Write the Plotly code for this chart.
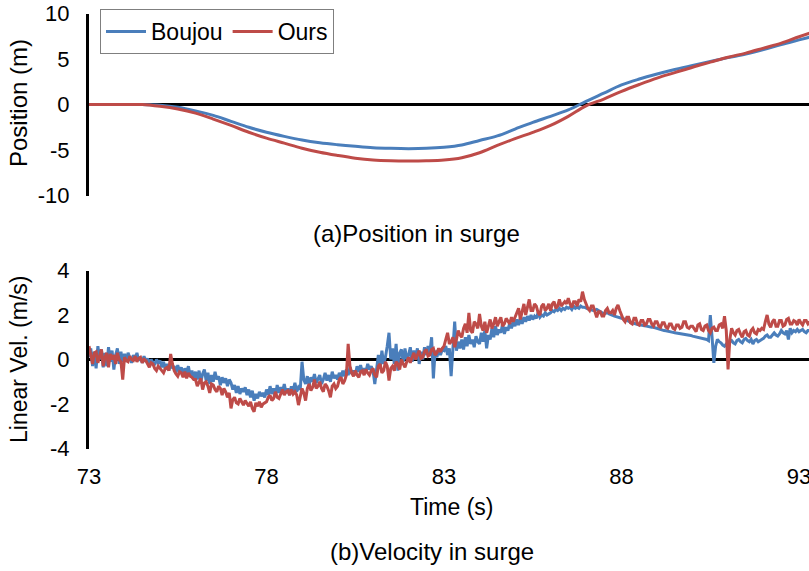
import plotly.graph_objects as go

# ---------------- data ----------------
pos_time = [73.0, 73.5, 74.0, 74.5, 75.0, 75.5, 76.0, 76.5, 77.0, 77.5,
            78.0, 78.5, 79.0, 79.5, 80.0, 80.5, 81.0, 81.5, 82.0, 82.5,
            83.0, 83.5, 84.0, 84.5, 85.0, 85.5, 86.0, 86.5, 87.0, 87.5,
            88.0, 88.5, 89.0, 89.5, 90.0, 90.5, 91.0, 91.5, 92.0, 92.5,
            93.0, 93.5]
pos_boujou = [0, 0, 0, 0, -0.08, -0.3, -0.7, -1.2, -1.85, -2.5,
              -3.05, -3.5, -3.9, -4.2, -4.42, -4.6, -4.75, -4.82, -4.85, -4.82,
              -4.7, -4.45, -3.95, -3.45, -2.7, -1.96, -1.3, -0.6, 0.35, 1.25,
              2.15, 2.8, 3.35, 3.85, 4.3, 4.72, 5.15, 5.55, 6.05, 6.6,
              7.1, 7.6]
pos_ours = [0, 0, 0, 0, -0.2, -0.5, -0.95, -1.6, -2.3, -3.05,
            -3.7, -4.25, -4.8, -5.25, -5.6, -5.9, -6.1, -6.18, -6.2, -6.18,
            -6.1, -5.85, -5.3, -4.5, -3.75, -3.07, -2.3, -1.3, -0.15, 0.6,
            1.45, 2.2, 2.9, 3.5, 4.1, 4.65, 5.2, 5.65, 6.2, 6.75,
            7.45, 8.1]

# velocity sampled every 0.05 s from 73.0 s (one row = one second)
vel_t0 = 73.0
vel_dt = 0.05
vel_boujou = [
    0.1, 0.5, -0.3, 0.35, -0.4, 0.6, 0.0, 0.45, -0.35, 0.3, -0.3, 0.55, -0.1, 0.4, -0.45, 0.2, 0.5, -0.2, 0.35, -0.1,
    0.25, -0.1, 0.3, 0.05, -0.15, 0.2, 0.0, 0.3, -0.05, 0.1, -0.15, 0.15, -0.1, 0.05, -0.2, 0.0, -0.1, -0.25, 0.0, -0.15,
    -0.05, -0.35, -0.1, -0.45, -0.2, -0.5, -0.15, -0.4, -0.3, -0.6, -0.25, -0.55, -0.35, -0.7, -0.4, -0.6, -0.3, -0.75, -0.5, -0.85,
    -0.55, -0.9, -0.5, -1.0, -0.65, -0.45, -0.95, -0.6, -1.1, -0.7, -1.0, -0.55, -0.9, -0.75, -1.15, -0.8, -1.05, -0.85, -1.2, -0.9,
    -1.05, -1.35, -1.15, -1.5, -1.2, -1.55, -1.3, -1.45, -1.25, -1.6, -1.35, -1.7, -1.4, -1.85, -1.55, -1.75, -1.45, -1.65, -1.5, -1.7,
    -1.35, -1.6, -1.2, -1.55, -1.3, -1.65, -1.15, -1.5, -1.25, -1.45, -1.1, -1.5, -1.3, -1.6, -1.2, -1.4, -1.05, -1.45, -1.25, -1.35,
    -0.1, -0.9, -1.1, -0.75, -1.15, -0.8, -1.0, -0.65, -1.05, -0.85, -0.7, -1.1, -0.9, -0.6, -0.95, -0.7, -1.0, -0.55, -0.85, -0.7,
    -0.9, -0.6, -0.8, -0.5, -0.75, -0.45, -0.7, -0.35, -0.65, -0.5, -0.7, -0.3, -0.55, -0.25, -0.6, -0.4, -0.55, -0.2, -0.45, -0.3,
    -0.5, -1.1, -0.3, 0.2, -0.4, 0.4, -0.2, 0.1, 0.6, 1.2, 0.0, 0.5, -0.2, 0.7, -0.5, 0.3, 0.45, -0.1, 0.5, 0.0,
    0.2, 0.55, -0.1, 0.4, 0.1, 0.5, -0.2, 0.35, 0.0, 0.55, 0.2, 0.6, 0.3, 1.0, -0.85, 0.4, 0.1, 0.5, 0.2, 0.45,
    0.4, 0.6, 0.2, 0.5, -0.75, 0.3, 1.7, 0.4, 0.8, 0.5, 0.9, 0.45, 1.0, 0.6, 1.1, 0.7, 0.9, 0.55, 1.05, 0.8,
    0.7, 1.2, 0.8, 1.3, 0.5, 1.1, 0.9, 1.4, 1.0, 1.5, 1.1, 1.35, 1.2, 1.6, 1.15, 1.45, 1.3, 1.65, 1.4, 1.7,
    1.5, 1.8, 1.55, 1.85, 1.6, 1.9, 1.7, 1.95, 1.75, 2.0, 1.8, 1.95, 1.85, 2.1, 1.9, 2.0, 1.95, 2.1, 2.0, 2.05,
    2.1, 2.2, 2.15, 2.25, 2.2, 2.3, 2.2, 2.3, 2.25, 2.35, 2.3, 2.35, 2.25, 2.4, 2.3, 2.35, 2.3, 2.4, 2.35, 2.35,
    2.3, 2.28, 2.25, 2.22, 2.2, 2.22, 2.25, 2.2, 2.15, 2.1, 2.05, 2.08, 2.1, 2.05, 2.0, 1.98, 1.95, 1.93, 1.92, 1.9,
    1.85, 1.83, 1.8, 1.75, 1.7, 1.68, 1.65, 1.62, 1.6, 1.57, 1.55, 1.55, 1.55, 1.52, 1.5, 1.48, 1.45, 1.45, 1.45, 1.42,
    1.4, 1.38, 1.35, 1.32, 1.3, 1.29, 1.28, 1.26, 1.25, 1.22, 1.2, 1.19, 1.18, 1.16, 1.15, 1.13, 1.12, 1.11, 1.1, 1.08,
    1.05, 1.03, 1.0, 0.99, 0.98, 0.96, 0.95, 0.93, 0.9, 0.85, 2.0, 1.0, -0.15, 0.6, 0.9, 0.8, 0.75, 0.65, 0.6, 0.7,
    0.65, 0.8, 0.85, 0.75, 0.7, 0.85, 0.9, 0.8, 0.75, 0.9, 0.95, 0.85, 0.8, 0.9, 0.7, 0.85, 0.9, 0.8, 0.85, 0.9,
    0.95, 1.05, 1.1, 1.0, 1.0, 1.1, 1.2, 1.1, 1.05, 1.15, 1.3, 1.2, 1.15, 1.3, 0.9, 1.4, 1.2, 1.3, 1.25, 1.35,
    1.25, 1.3, 1.35, 1.25, 1.2, 1.3, 1.3]
vel_ours = [
    0.6, 0.1, -0.2, 0.3, 0.35, -0.15, 0.2, 0.45, -0.3, 0.1, 0.3, -0.35, 0.25, 0.0, 0.2, -0.2, 0.3, 0.0, -0.1, -0.9,
    0.1, -0.05, -0.1, 0.15, 0.0, -0.05, 0.15, -0.1, 0.05, 0.1, -0.15, 0.0, -0.05, -0.2, -0.35, -0.15, -0.2, -0.4, -0.5, -0.3,
    -0.4, -0.55, -0.6, -0.4, -0.35, -0.5, 0.25, -0.2, -0.5, -0.65, -0.75, -0.55, -0.6, -0.8, -0.55, -0.85, -0.6, -0.75, -0.8, -0.9,
    -0.9, -1.2, -1.0, -0.85, -1.35, -1.05, -1.0, -1.2, -1.5, -1.1, -1.15, -1.35, -1.45, -1.2, -1.3, -1.6, -1.3, -1.45, -1.7, -1.5,
    -2.2, -1.8, -1.7, -1.95, -2.0, -1.75, -1.9, -2.05, -1.85, -1.95, -2.1, -1.9, -2.2, -2.35, -1.95, -2.1, -1.9, -2.15, -2.0, -1.95,
    -1.9, -1.7, -1.6, -1.85, -1.75, -1.45, -1.7, -1.75, -1.5, -1.35, -1.6, -1.45, -1.4, -1.6, -1.35, -1.55, -1.45, -1.6, -2.05, -1.6,
    -1.3, -1.5, -1.85, -1.3, -1.1, -1.4, -1.25, -0.9, -1.3, -1.2, -1.0, -1.3, -1.45, -1.1, -1.2, -1.4, -1.7, -1.2, -1.1, -1.3,
    -1.2, -0.9, -0.8, -1.1, -0.95, -0.7, 0.7, -0.3, -0.6, -0.75, -0.5, -0.7, -0.8, -0.55, -0.5, -0.7, -0.45, -0.6, -0.7, -0.5,
    -0.4, -0.7, -0.8, -0.3, -0.2, -0.6, -0.5, -0.1, -0.3, -0.95, -0.4, -0.3, -0.5, -0.1, -0.2, -0.45, 0.0, -0.2, -0.35, -0.1,
    0.1, -0.15, 0.05, 0.3, 0.0, 0.2, 0.4, 0.05, 0.1, 0.35, 0.45, 0.15, 0.2, 0.45, 0.5, 0.2, 0.3, 0.5, 0.35, 0.5,
    0.6, 0.9, 1.2, 0.7, 0.8, 1.0, 0.55, 0.9, 1.3, 1.1, 1.0, 1.4, 1.6, 1.2, 2.1, 1.3, 1.2, 1.7, 1.6, 1.4,
    2.05, 1.5, 1.3, 1.7, 1.2, 1.5, 1.8, 1.4, 1.6, 1.9, 1.5, 1.7, 1.9, 1.5, 1.6, 1.85, 1.7, 1.6, 1.9, 1.7,
    1.9, 2.1, 2.3, 1.8, 2.2, 2.5, 2.0, 2.3, 2.7, 2.2, 2.2, 2.5, 2.4, 2.1, 2.0, 2.4, 2.5, 2.2, 2.3, 2.5,
    2.2, 2.5, 2.6, 2.3, 2.4, 2.7, 2.4, 2.5, 2.6, 2.5, 2.75, 2.5, 2.35, 2.6, 2.6, 2.4, 2.7, 2.6, 3.05, 2.7,
    2.5, 2.3, 2.2, 2.4, 2.4, 2.1, 1.9, 2.15, 2.15, 1.95, 1.95, 2.2, 2.3, 2.1, 2.1, 2.2, 2.0, 2.3, 2.45, 2.2,
    2.0, 1.8, 1.7, 1.9, 1.9, 1.65, 1.6, 1.85, 1.85, 1.6, 1.55, 1.75, 1.75, 1.55, 1.6, 1.8, 1.8, 1.6, 1.5, 1.7,
    1.7, 1.5, 1.45, 1.65, 1.65, 1.45, 1.4, 1.6, 1.6, 1.4, 1.35, 1.55, 1.55, 1.4, 1.45, 1.7, 1.7, 1.45, 1.4, 1.5,
    1.5, 1.35, 1.25, 1.55, 1.6, 1.35, 1.3, 1.5, 1.55, 1.3, 1.2, 1.4, 1.45, 1.3, 1.3, 1.55, 1.6, 1.4, 1.95, 1.3,
    -0.45, 0.9, 1.4, 1.2, 1.1, 1.3, 1.35, 1.15, 1.0, 1.25, 1.3, 1.1, 1.05, 1.3, 1.4, 1.2, 1.15, 1.35, 1.3, 1.4,
    1.35, 1.7, 2.0, 1.6, 1.45, 1.7, 1.8, 1.5, 1.5, 1.75, 1.75, 1.5, 1.55, 1.8, 1.85, 1.6, 1.6, 1.75, 1.7, 1.55,
    1.8, 1.65, 1.55, 1.75, 1.75, 1.6, 1.7]
vel_time = [round(vel_t0 + vel_dt * i, 3) for i in range(len(vel_boujou))]

x_ticks = [73, 78, 83, 88, 93]
pos_ticks = [-10, -5, 0, 5, 10]
pos_tick_text = ["-10", "-5", "0", "5", "10"]
vel_ticks = [-4, -2, 0, 2, 4]
vel_tick_text = ["-4", "-2", "0", "2", "4"]

series_names = ["Boujou", "Ours"]
BLUE = "#4A7EBB"
RED = "#BE4B48"
FONT = "Liberation Sans, Arial, sans-serif"

# ---------------- figure ----------------
W, H = 809, 571
def px_x(p):
    return p / W
def px_y(p):
    return (H - p) / H

fig = go.Figure()
fig.add_trace(go.Scatter(x=pos_time, y=pos_boujou, name=series_names[0], mode="lines",
                         line=dict(color=BLUE, width=3, shape="spline"),
                         xaxis="x", yaxis="y"))
fig.add_trace(go.Scatter(x=pos_time, y=pos_ours, name=series_names[1], mode="lines",
                         line=dict(color=RED, width=3, shape="spline"),
                         xaxis="x", yaxis="y"))
fig.add_trace(go.Scatter(x=vel_time, y=vel_boujou, name=series_names[0], mode="lines",
                         line=dict(color=BLUE, width=3), showlegend=False,
                         xaxis="x2", yaxis="y2"))
fig.add_trace(go.Scatter(x=vel_time, y=vel_ours, name=series_names[1], mode="lines",
                         line=dict(color=RED, width=3), showlegend=False,
                         xaxis="x2", yaxis="y2"))

x_dom = [px_x(89), 1.0]
x_range = [73, 93.28]

common_y = dict(showline=True, linecolor="black", linewidth=3, zeroline=True,
                zerolinecolor="black", zerolinewidth=3, showgrid=False, ticks="",
                automargin=False,
                ticklabelstandoff=12, tickfont=dict(family=FONT, size=22, color="black"))

fig.update_layout(
    width=W, height=H,
    margin=dict(l=0, r=0, t=0, b=0, pad=0),
    paper_bgcolor="white", plot_bgcolor="white",
    font=dict(family=FONT, size=22, color="black"),
    xaxis=dict(domain=x_dom, range=x_range, showticklabels=False, showgrid=False,
               zeroline=False, showline=False, ticks="", anchor="y", automargin=False),
    yaxis=dict(domain=[px_y(195.5), px_y(13.5)], range=[-10, 10], tickvals=pos_ticks,
               ticktext=pos_tick_text, anchor="x", **common_y),
    xaxis2=dict(domain=x_dom, range=x_range, tickvals=x_ticks, showgrid=False,
                zeroline=False, showline=False, ticks="", anchor="y2", automargin=False,
                ticklabeloverflow="allow",
                ticklabelstandoff=12, tickfont=dict(family=FONT, size=22, color="black")),
    yaxis2=dict(domain=[px_y(448.5), px_y(270.5)], range=[-4, 4], tickvals=vel_ticks,
                ticktext=vel_tick_text, anchor="x2", **common_y),
    showlegend=True,
    legend=dict(orientation="h", x=px_x(100), y=px_y(9), xanchor="left", yanchor="top",
                bordercolor="#7f7f7f", borderwidth=1, bgcolor="white",
                font=dict(family=FONT, size=23, color="black"),
                itemwidth=40, tracegroupgap=0),
)

annos = [
    dict(text="(a)Position in surge", x=px_x(416), y=px_y(233), size=24),
    dict(text="Time (s)", x=px_x(451), y=px_y(507), size=23),
    dict(text="(b)Velocity in surge", x=px_x(432), y=px_y(551), size=24),
    dict(text="Position (m)", x=px_x(19), y=px_y(103), textangle=-90, size=24),
    dict(text="Linear Vel. (m/s)", x=px_x(19), y=px_y(360), textangle=-90, size=23),
]
for a in annos:
    sz = a.pop("size")
    fig.add_annotation(xref="paper", yref="paper", xanchor="center", yanchor="middle",
                       showarrow=False, font=dict(family=FONT, size=sz, color="black"), **a)

fig.write_html("out.html")
